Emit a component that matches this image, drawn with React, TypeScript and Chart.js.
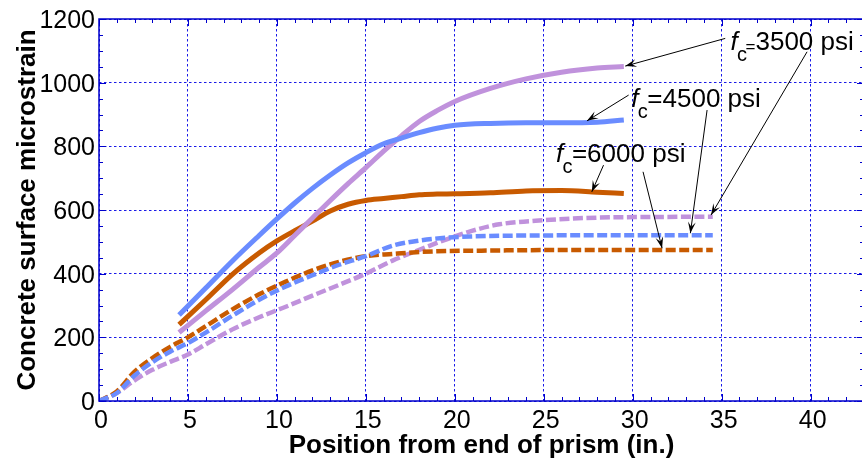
import React, { useEffect, useRef } from "react";
import { Chart, registerables } from "chart.js";

Chart.register(...registerables);

// ---- data ----
const solidX = [4.5, 6, 7.5, 9, 10, 11, 12, 13, 14, 15, 16, 17, 18, 19, 20, 22, 24, 26, 28, 29.5];
const solid3500 = [215, 283, 350, 420, 465, 520, 575, 630, 683, 733, 785, 833, 878, 912, 941, 982, 1012, 1033, 1046, 1051];
const solid4500 = [270, 355, 440, 520, 572, 622, 668, 710, 748, 780, 808, 826, 843, 857, 866, 872, 874, 874, 876, 883];
const solid6000 = [240, 318, 398, 465, 503, 535, 565, 597, 618, 630, 636, 642, 648, 650, 651, 654, 660, 661, 656, 652];

const dashedX = [0, 1, 2, 3, 4, 5, 6, 7.5, 9, 10.5, 12, 13.5, 15, 16.5, 18, 19.5, 21, 22.5, 25, 28, 31, 34.5];
const dashed3500 = [0, 25, 65, 98, 123, 146, 178, 225, 263, 296, 331, 365, 400, 441, 475, 507, 535, 555, 568, 576, 578, 579];
const dashed4500 = [0, 25, 80, 122, 155, 182, 215, 268, 318, 360, 395, 428, 455, 488, 504, 513, 517, 519, 520, 521, 521, 521];
const dashed6000 = [0, 30, 92, 135, 170, 200, 235, 288, 335, 375, 410, 437, 455, 462, 468, 471, 472, 473, 474, 474, 474, 474];

const xTicks = [0, 5, 10, 15, 20, 25, 30, 35, 40];
const yTicks = [0, 200, 400, 600, 800, 1000, 1200];

const xTitle = "Position from end of prism (in.)";
const yTitle = "Concrete surface microstrain";

const labelValues = ["3500 psi", "4500 psi", "6000 psi"];
// label anchor (data units) and arrows [fromX, fromY, toX, toY] in data units
const labelAnchors = [
  [35.55, 1103],
  [29.98, 924],
  [25.74, 752],
];
const labelArrows = [
  [[35.2, 1139, 29.58, 1052], [39.8, 1097, 34.4, 584]],
  [[29.77, 961, 27.43, 880], [34.18, 914, 33.24, 527]],
  [[28.36, 741, 27.7, 657], [30.58, 720, 31.65, 480]],
];

const PURPLE = "#C092DC";
const BLUE = "#6A8CFF";
const ORANGE = "#C85A00";
const FRAME = "#0000CC";
const GRID = "rgba(0,0,230,0.9)";
const FONT = '"Liberation Sans", Arial, Helvetica, sans-serif';

function mk(label: string, xs: number[], ys: number[], color: string, dashed: boolean) {
  return {
    label,
    data: xs.map((x, i) => ({ x, y: ys[i] })),
    borderColor: color,
    backgroundColor: color,
    borderWidth: dashed ? 4.5 : 5,
    borderDash: dashed ? [10, 3.5] : [],
    borderCapStyle: "butt" as const,
    pointRadius: 0,
    pointHoverRadius: 0,
    fill: false,
    cubicInterpolationMode: "monotone" as const,
  };
}

function arrow(ctx: CanvasRenderingContext2D, x1: number, y1: number, x2: number, y2: number) {
  ctx.beginPath();
  ctx.moveTo(x1, y1);
  ctx.lineTo(x2, y2);
  ctx.stroke();
  const ang = Math.atan2(y2 - y1, x2 - x1);
  const L = 12;
  const w = 0.33;
  ctx.beginPath();
  ctx.moveTo(x2, y2);
  ctx.lineTo(x2 - L * Math.cos(ang - w), y2 - L * Math.sin(ang - w));
  ctx.lineTo(x2 - L * 0.55 * Math.cos(ang), y2 - L * 0.55 * Math.sin(ang));
  ctx.lineTo(x2 - L * Math.cos(ang + w), y2 - L * Math.sin(ang + w));
  ctx.closePath();
  ctx.fill();
}

const overlay = {
  id: "overlay",
  afterDatasetsDraw(chart: any) {
    const { ctx, chartArea: a } = chart;
    const xs = chart.scales.x;
    const ys = chart.scales.y;
    ctx.save();

    // frame
    ctx.strokeStyle = FRAME;
    ctx.lineWidth = 1.5;
    ctx.setLineDash([]);
    ctx.beginPath();
    ctx.moveTo(a.left, a.top);
    ctx.lineTo(a.right, a.top);
    ctx.lineTo(a.right, a.bottom);
    ctx.lineTo(a.left, a.bottom);
    ctx.closePath();
    ctx.stroke();

    // inward ticks
    ctx.lineWidth = 1;
    for (let v = 0; v <= xs.max; v += 1) {
      const px = Math.round(xs.getPixelForValue(v)) + 0.5;
      const len = v % 5 === 0 ? 7 : 4;
      ctx.beginPath();
      ctx.moveTo(px, a.bottom);
      ctx.lineTo(px, a.bottom - len);
      ctx.moveTo(px, a.top);
      ctx.lineTo(px, a.top + len);
      ctx.stroke();
    }
    for (let v = 0; v <= ys.max; v += 50) {
      const py = Math.round(ys.getPixelForValue(v)) + 0.5;
      const len = v % 200 === 0 ? 7 : 4;
      ctx.beginPath();
      ctx.moveTo(a.left, py);
      ctx.lineTo(a.left + len, py);
      ctx.moveTo(a.right, py);
      ctx.lineTo(a.right - len, py);
      ctx.stroke();
    }

    // tick labels
    ctx.fillStyle = "#000";
    ctx.font = `25px ${FONT}`;
    ctx.textBaseline = "alphabetic";
    ctx.textAlign = "center";
    xTicks.forEach((v) => ctx.fillText(String(v), xs.getPixelForValue(v) + 2, a.bottom + 27));
    ctx.textAlign = "right";
    yTicks.forEach((v) => ctx.fillText(String(v), a.left - 4, ys.getPixelForValue(v) + 9));

    // axis titles
    ctx.font = `bold 26px ${FONT}`;
    ctx.textAlign = "center";
    ctx.fillText(xTitle, (a.left + a.right) / 2, a.bottom + 52);
    ctx.save();
    ctx.translate(35, (a.top + a.bottom) / 2);
    ctx.rotate(-Math.PI / 2);
    ctx.fillText(yTitle, 0, 0);
    ctx.restore();

    // annotations
    ctx.textAlign = "left";
    labelValues.forEach((txt, i) => {
      const fx = xs.getPixelForValue(labelAnchors[i][0]);
      const by = ys.getPixelForValue(labelAnchors[i][1]);
      ctx.font = `italic 26px ${FONT}`;
      ctx.fillText("f", fx - 1, by);
      ctx.font = `20px ${FONT}`;
      ctx.fillText("c", fx + 5.5, by + 11);
      if (i === 0) {
        ctx.font = `17px ${FONT}`;
        ctx.fillText("=", fx + 14, by + 2);
        ctx.font = `26px ${FONT}`;
        ctx.fillText(txt, fx + 24, by);
      } else {
        ctx.font = `26px ${FONT}`;
        ctx.fillText("=" + txt, fx + 15, by);
      }
      ctx.strokeStyle = "#000";
      ctx.fillStyle = "#000";
      ctx.lineWidth = 1;
      labelArrows[i].forEach((ar) => {
        arrow(
          ctx,
          xs.getPixelForValue(ar[0]),
          ys.getPixelForValue(ar[1]),
          xs.getPixelForValue(ar[2]),
          ys.getPixelForValue(ar[3])
        );
      });
    });

    ctx.restore();
  },
};

export default function App() {
  const ref = useRef<HTMLCanvasElement | null>(null);
  useEffect(() => {
    if (!ref.current) return;
    const chart = new Chart(ref.current, {
      type: "line",
      data: {
        datasets: [
          mk("fc=4500 psi (dashed)", dashedX, dashed4500, BLUE, true),
          mk("fc=6000 psi (dashed)", dashedX, dashed6000, ORANGE, true),
          mk("fc=3500 psi (dashed)", dashedX, dashed3500, PURPLE, true),
          mk("fc=4500 psi", solidX, solid4500, BLUE, false),
          mk("fc=3500 psi", solidX, solid3500, PURPLE, false),
          mk("fc=6000 psi", solidX, solid6000, ORANGE, false),
        ],
      },
      options: {
        responsive: false,
        animation: false,
        events: [],
        layout: { padding: { left: 99, top: 19, right: 2, bottom: 59 } },
        plugins: { legend: { display: false }, tooltip: { enabled: false } },
        scales: {
          x: {
            type: "linear",
            min: 0,
            max: 43,
            ticks: { display: false },
            grid: { color: GRID, lineWidth: 1, drawTicks: false },
            border: { display: false, dash: [2.5, 2.5] },
            afterBuildTicks: (s: any) => {
              s.ticks = xTicks.map((v) => ({ value: v }));
            },
            afterFit: (s: any) => {
              s.height = 0;
            },
          },
          y: {
            type: "linear",
            min: 0,
            max: 1200,
            ticks: { display: false },
            grid: { color: GRID, lineWidth: 1, drawTicks: false },
            border: { display: false, dash: [2.5, 2.5] },
            afterBuildTicks: (s: any) => {
              s.ticks = yTicks.map((v) => ({ value: v }));
            },
            afterFit: (s: any) => {
              s.width = 0;
            },
          },
        },
      },
      plugins: [overlay],
    });
    return () => chart.destroy();
  }, []);

  return (
    <div
      style={{
        position: "fixed",
        left: 0,
        top: 0,
        width: 862,
        height: 460,
        overflow: "hidden",
        background: "#fff",
      }}
    >
      <canvas ref={ref} width={866} height={460} style={{ display: "block" }} />
    </div>
  );
}
